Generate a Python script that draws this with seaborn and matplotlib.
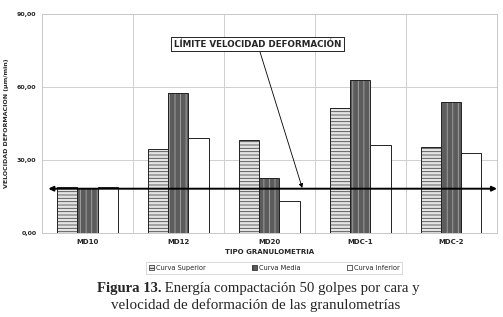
import numpy as np
import pandas as pd
import seaborn as sns
import matplotlib.pyplot as plt
from matplotlib.patches import Rectangle

categorias = ["MD10", "MD12", "MD20", "MDC-1", "MDC-2"]
curvas = ["Curva Superior", "Curva Media", "Curva Inferior"]
superior = [19.0, 34.4, 38.3, 51.3, 35.3]
media = [18.6, 57.5, 22.8, 62.7, 53.8]
inferior = [19.0, 39.0, 13.2, 36.2, 32.8]
limite = 18.2
yticks = [0, 30, 60, 90]
ytick_labels = ["0,00", "30,00", "60,00", "90,00"]

df = pd.DataFrame({
    "tipo": categorias * 3,
    "curva": [curvas[0]] * 5 + [curvas[1]] * 5 + [curvas[2]] * 5,
    "vel": superior + media + inferior,
})

sns.set_style("white")
plt.rcParams["hatch.linewidth"] = 0.6

fig = plt.figure(figsize=(5.03, 3.17), dpi=100)
ax = fig.add_axes([0.0835, 0.265, 0.9045, 0.691])

sns.barplot(data=df, x="tipo", y="vel", hue="curva", order=categorias,
            hue_order=curvas, width=0.66, ax=ax, legend=False)

estilos = [
    dict(facecolor="#e4e4e4", edgecolor="#4a4a4a", hatch="-----"),
    dict(facecolor="#5c5c5c", edgecolor="#a8a8a8", hatch="|||"),
    dict(facecolor="white", edgecolor="#333333", hatch=""),
]
for cont, st in zip(ax.containers, estilos):
    for bar in cont:
        bar.set_facecolor(st["facecolor"])
        bar.set_edgecolor(st["edgecolor"])
        bar.set_hatch(st["hatch"])
        bar.set_linewidth(0.0)
        ax.add_patch(Rectangle(bar.get_xy(), bar.get_width(), bar.get_height(),
                               fill=False, ec="#222222", lw=0.7, zorder=3))

ax.set_xlim(-0.5, 4.5)
ax.set_ylim(0, 90)
ax.set_yticks(yticks)
ax.set_yticklabels(ytick_labels, fontsize=4.5, fontweight="bold")
ax.set_xticks(range(len(categorias)))
ax.set_xticklabels(categorias, fontsize=5, fontweight="bold")
ax.set_xticks(np.arange(-0.5, 5, 1), minor=True)
ax.tick_params(axis="both", which="both", length=0, pad=4)
ax.grid(axis="y", which="major", color="#d0d0d0", lw=0.7)
ax.grid(axis="x", which="minor", color="#d0d0d0", lw=0.7)
ax.set_axisbelow(True)
for s in ax.spines.values():
    s.set_color("#c8c8c8")
    s.set_linewidth(0.7)

ax.set_xlabel("TIPO GRANULOMETRIA", fontsize=5, fontweight="bold", labelpad=3)
ax.set_ylabel("VELOCIDAD DEFORMACION (µm/min)", fontsize=4.5, fontweight="bold", labelpad=6)

# linea de limite
ax.annotate("", xy=(-0.43, limite), xytext=(4.5, limite),
            arrowprops=dict(arrowstyle="<|-|>", color="black", lw=1.4,
                            mutation_scale=7, shrinkA=0, shrinkB=0), zorder=5)
ax.annotate("LÍMITE VELOCIDAD DEFORMACIÓN", xy=(2.36, limite + 0.3), xytext=(1.87, 77.5),
            ha="center", va="center", fontsize=6.3, fontweight="bold",
            bbox=dict(boxstyle="square,pad=0.3", fc="white", ec="black", lw=0.6),
            arrowprops=dict(arrowstyle="-|>", color="black", lw=0.6, mutation_scale=6,
                            shrinkA=0, shrinkB=0), zorder=6)

handles = [Rectangle((0, 0), 1, 1, facecolor=st["facecolor"], edgecolor="#222222",
                     hatch=st["hatch"], lw=0.5) for st in estilos]
leg = fig.legend(handles, curvas, loc="center", bbox_to_anchor=(0.545, 0.155), ncol=3,
                 fontsize=4.8, frameon=True, fancybox=False, handlelength=0.8,
                 handleheight=0.8, handletextpad=0.2, columnspacing=7, borderpad=0.4)
leg.get_frame().set_edgecolor("#c8c8c8")
leg.get_frame().set_linewidth(0.6)

# pie de figura: parte en negrita + resto, centrado como una linea
r = fig.canvas.get_renderer()
t1 = fig.text(0, 0.09, "Figura 13.", fontsize=10.6, ha="left", va="center",
              family="Liberation Serif", fontweight="bold")
t2 = fig.text(0, 0.09, " Energía compactación 50 golpes por cara y", fontsize=10.6,
              ha="left", va="center", family="Liberation Serif")
w1 = t1.get_window_extent(r).width / fig.bbox.width
w2 = t2.get_window_extent(r).width / fig.bbox.width
x0 = 0.513 - (w1 + w2) / 2
t1.set_x(x0)
t2.set_x(x0 + w1)
fig.text(0.508, 0.038, "velocidad de deformación de las granulometrías", fontsize=10.8,
         ha="center", va="center", family="Liberation Serif")

fig.savefig("out.png", dpi=100)
